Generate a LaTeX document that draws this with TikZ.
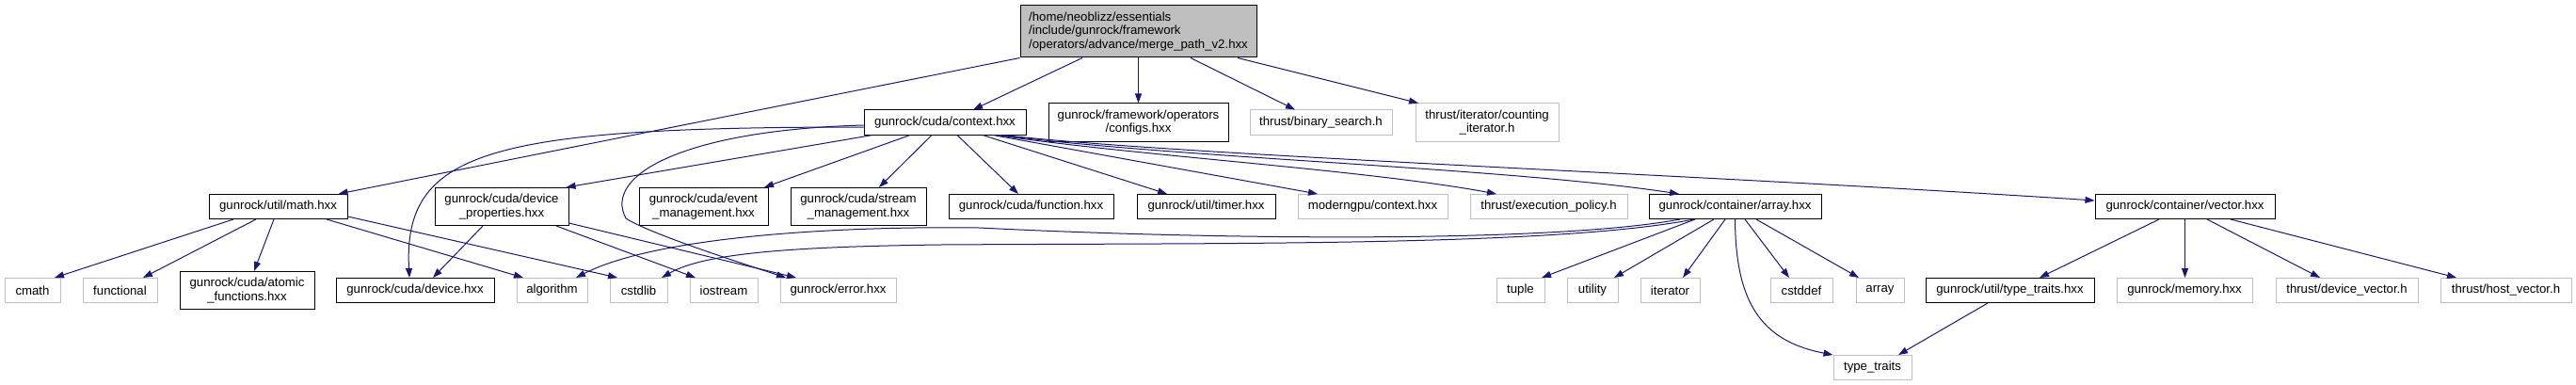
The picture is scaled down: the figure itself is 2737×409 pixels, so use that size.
\documentclass[tikz,border=0pt]{standalone}
\usepackage{fontspec}
\setmainfont{Liberation Sans}
\usetikzlibrary{arrows.meta}
\definecolor{edgeblue}{HTML}{191970}
\definecolor{greyb}{HTML}{BFBFBF}
\newcommand\dgfont{\fontsize{13.2}{14.8}\selectfont}
\begin{document}
\begin{tikzpicture}[x=1pt,y=-1pt,
  box/.style={draw=black, line width=1pt, inner sep=0pt, font=\dgfont, align=center, minimum height=26pt},
  ext/.style={draw=greyb, line width=1pt, inner sep=0pt, font=\dgfont, align=center, minimum height=26pt},
  two/.style={minimum height=40pt},
  dep/.style={draw=edgeblue, line width=1pt, -{Triangle[length=10pt,width=7pt]}},
]
\useasboundingbox (0,0) rectangle (2737,409);

% row 1
\node[box, fill=greyb, align=left, minimum width=251pt, minimum height=55pt] (root) at (1209.5,33.5)
  {/home/neoblizz/essentials\\/include/gunrock/framework\\/operators/advance/merge\_path\_v2.hxx};

% row 2
\node[box, minimum width=172pt] (context) at (1004,130) {gunrock/cuda/context.hxx};
\node[box, two, minimum width=191pt] (configs) at (1209.5,130) {gunrock/framework/operators\\/configs.hxx};
\node[ext, minimum width=151pt] (binary) at (1403.5,130) {thrust/binary\_search.h};
\node[ext, two, minimum width=152pt] (counting) at (1580,130) {thrust/iterator/counting\\\_iterator.h};

% row 3
\node[box, minimum width=147pt] (math) at (295.5,219.5) {gunrock/util/math.hxx};
\node[box, two, minimum width=142pt] (devprop) at (533,219.5) {gunrock/cuda/device\\\_properties.hxx};
\node[box, two, minimum width=137pt] (event) at (747.5,219.5) {gunrock/cuda/event\\\_management.hxx};
\node[box, two, minimum width=144pt] (stream) at (912,219.5) {gunrock/cuda/stream\\\_management.hxx};
\node[box, minimum width=175pt] (function) at (1095.5,219.5) {gunrock/cuda/function.hxx};
\node[box, minimum width=147pt] (timer) at (1281.5,219.5) {gunrock/util/timer.hxx};
\node[ext, minimum width=159pt] (moderngpu) at (1458.5,219.5) {moderngpu/context.hxx};
\node[ext, minimum width=167pt] (execpol) at (1645.5,219.5) {thrust/execution\_policy.h};
\node[box, minimum width=183pt] (arrayhxx) at (1843.5,219.5) {gunrock/container/array.hxx};
\node[box, minimum width=191pt] (vector) at (2321.5,219.5) {gunrock/container/vector.hxx};

% row 4
\node[ext, minimum width=59pt] (cmath) at (34.5,308.5) {cmath};
\node[ext, minimum width=79pt] (functional) at (127.5,308.5) {functional};
\node[box, two, minimum width=143pt] (atomic) at (262.5,308.5) {gunrock/cuda/atomic\\\_functions.hxx};
\node[box, minimum width=168pt] (device) at (441,308.5) {gunrock/cuda/device.hxx};
\node[ext, minimum width=75pt] (algorithm) at (586.5,308.5) {algorithm};
\node[ext, minimum width=61pt] (cstdlib) at (678.5,308.5) {cstdlib};
\node[ext, minimum width=72pt] (iostream) at (769,308.5) {iostream};
\node[ext, minimum width=123pt] (error) at (890.5,308.5) {gunrock/error.hxx};
\node[ext, minimum width=51pt] (tuple) at (1615.5,308.5) {tuple};
\node[ext, minimum width=54pt] (utility) at (1692,308.5) {utility};
\node[ext, minimum width=63pt] (iterator) at (1774.5,308.5) {iterator};
\node[ext, minimum width=66pt] (cstddef) at (1914,308.5) {cstddef};
\node[ext, minimum width=51pt] (array) at (1997.5,308.5) {array};
\node[box, minimum width=179pt] (tth) at (2135.5,308.5) {gunrock/util/type\_traits.hxx};
\node[ext, minimum width=144pt] (memory) at (2321,308.5) {gunrock/memory.hxx};
\node[ext, minimum width=151pt] (devvec) at (2493.5,308.5) {thrust/device\_vector.h};
\node[ext, minimum width=139pt] (hostvec) at (2662.5,308.5) {thrust/host\_vector.h};

% row 5
\node[ext, minimum width=83pt] (tt) at (1989.5,390.5) {type\_traits};

% root edges
\draw[dep] (root.south west) -- ([xshift=64pt]math.north);
\draw[dep] ([xshift=-59.5pt]root.south) -- ([xshift=30pt]context.north);
\draw[dep] (root.south) -- (configs.north);
\draw[dep] ([xshift=55.5pt]root.south) -- ([xshift=-27.5pt]binary.north);
\draw[dep] ([xshift=105.5pt]root.south) -- ([xshift=-73pt]counting.north);

% context edges
\draw[dep] ([xshift=-14pt]context.south) -- ([xshift=22pt]stream.north);
\draw[dep] ([xshift=13pt]context.south) -- ([xshift=-13.5pt]function.north);
\draw[dep] ([xshift=40pt]context.south) -- ([xshift=-41.5pt]timer.north);
\draw[dep] ([xshift=-37pt]context.south) -- ([xshift=64.5pt]event.north);
\draw[dep] ([xshift=-77pt]context.south) -- ([xshift=-3pt]devprop.north east);
\draw[dep] ([yshift=-5pt]context.west) .. controls (520,135) and (428,160) .. ([xshift=-6pt]device.north);
\draw[dep] ([yshift=-3pt]context.west) .. controls (730,138) and (640,185) .. (665,232)
   .. controls (690,248) and (780,277) .. ([xshift=-55.5pt]error.north);
\draw[dep] ([xshift=51pt]context.south) -- ([xshift=-58.5pt]moderngpu.north);
\draw[dep] ([xshift=55pt]context.south) .. controls (1200,165) and (1450,180) .. ([xshift=-55.5pt]execpol.north);
\draw[dep] ([xshift=58pt]context.south) .. controls (1250,168) and (1600,178) .. ([xshift=-59.5pt]arrayhxx.north);
\draw[dep] ([xshift=62pt]context.south) .. controls (1250,165) and (1800,185) .. ([yshift=6.5pt]vector.west);

% math edges
\draw[dep] ([xshift=-47.5pt]math.south) -- ([xshift=23.5pt]cmath.north);
\draw[dep] ([xshift=-23.5pt]math.south) -- ([xshift=24.5pt]functional.north);
\draw[dep] ([xshift=-4.5pt]math.south) -- ([xshift=7.5pt]atomic.north);
\draw[dep] ([xshift=51.5pt]math.south) -- ([xshift=-30.5pt]algorithm.north);
\draw[dep] ([yshift=3pt]math.south east) -- ([xshift=-22.5pt]cstdlib.north);

% device properties edges
\draw[dep] ([xshift=-20pt]devprop.south) -- ([xshift=19pt]device.north);
\draw[dep] ([xshift=58pt]devprop.south) -- ([xshift=-30pt]iostream.north);
\draw[dep] ([yshift=3pt]devprop.south east) -- ([xshift=-44.5pt]error.north);

% array edges
\draw[dep] ([xshift=-58.5pt]arrayhxx.south) .. controls (1650,258) and (1300,255) .. (1040,242)
   .. controls (900,240) and (700,250) .. ([xshift=25.5pt]algorithm.north);
\draw[dep] ([xshift=-43.5pt]arrayhxx.south) .. controls (1650,262) and (1300,258) .. (1000,260)
   .. controls (850,262) and (750,268) .. ([xshift=24.5pt]cstdlib.north);
\draw[dep] ([xshift=-42.5pt]arrayhxx.south) -- ([xshift=22.5pt]tuple.north);
\draw[dep] ([xshift=-22.5pt]arrayhxx.south) -- ([xshift=23pt]utility.north);
\draw[dep] ([xshift=-10.5pt]arrayhxx.south) -- ([xshift=13.5pt]iterator.north);
\draw[dep] ([xshift=10.5pt]arrayhxx.south) -- ([xshift=-13pt]cstddef.north);
\draw[dep] ([xshift=22.5pt]arrayhxx.south) -- ([xshift=-22.5pt]array.north);
\draw[dep] (arrayhxx.south) .. controls (1844,320) and (1870,362) .. (tt.north west);

% vector edges
\draw[dep] ([xshift=-27.5pt]vector.south) -- ([xshift=31.5pt]tth.north);
\draw[dep] (vector.south) -- (vector.south |- memory.north);
\draw[dep] ([xshift=23.5pt]vector.south) -- ([xshift=-28.5pt]devvec.north);
\draw[dep] ([xshift=48.5pt]vector.south) -- ([xshift=-52.5pt]hostvec.north);

% type_traits.hxx edge
\draw[dep] ([xshift=-23.5pt]tth.south) -- ([xshift=27.5pt]tt.north);
\end{tikzpicture}
\end{document}
